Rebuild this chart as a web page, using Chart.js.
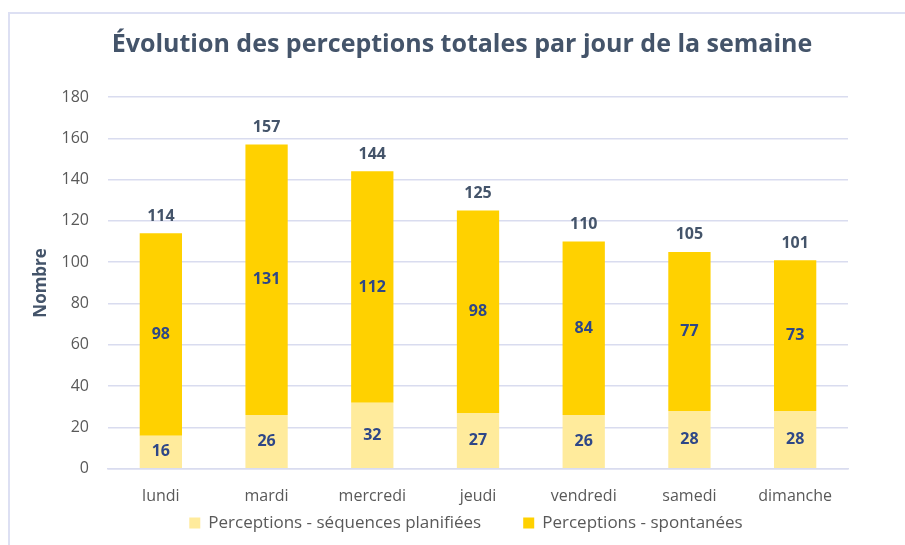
<!DOCTYPE html>
<html>
<head>
<meta charset="utf-8">
<script src="https://cdn.jsdelivr.net/npm/chart.js@4"></script>
<style>
  html, body { margin: 0; padding: 0; background: #fff; }
  #wrap { position: relative; width: 905px; height: 545px; overflow: hidden; }
  #frame { position: absolute; left: 8px; top: 12px; width: 910px; height: 550px;
           border-left: 2px solid #DDE0F3; border-top: 2px solid #DDE0F3; }
  canvas { position: absolute; left: 0; top: 0; }
</style>
</head>
<body>
<div id="wrap">
  <div id="frame"></div>
  <canvas id="chart" width="905" height="545"></canvas>
</div>
<script>
// ====== Data ======
const days = ['lundi', 'mardi', 'mercredi', 'jeudi', 'vendredi', 'samedi', 'dimanche'];
const planned = [16, 26, 32, 27, 26, 28, 28];
const spontaneous = [98, 131, 112, 98, 84, 77, 73];
const yTicks = [0, 20, 40, 60, 80, 100, 120, 140, 160, 180];

const FONT = "'Open Sans', 'Noto Sans', sans-serif";
const TITLE = 'Évolution des perceptions totales par jour de la semaine';

// ====== Labels plugin (values inside bars + totals on top) ======
const labelsPlugin = {
    id: 'barLabels',
    afterDatasetsDraw(chart) {
        const ctx = chart.ctx;
        const y = chart.scales.y;
        ctx.save();
        ctx.textAlign = 'center';
        ctx.textBaseline = 'middle';
        ctx.font = "bold 16px " + FONT;
        ctx.fillStyle = '#2E4787';
        chart.data.datasets.forEach((ds, i) => {
            const meta = chart.getDatasetMeta(i);
            meta.data.forEach((bar, j) => {
                ctx.fillText(String(ds.data[j]), bar.x, (bar.y + bar.base) / 2);
            });
        });
        // totals
        ctx.fillStyle = '#44546A';
        chart.getDatasetMeta(1).data.forEach((bar, j) => {
            const total = planned[j] + spontaneous[j];
            ctx.fillText(String(total), bar.x, y.getPixelForValue(total) - 17);
        });
        ctx.restore();
    }
};

// ====== Title + legend drawn by hand ======
const frameText = {
    id: 'frameText',
    afterDraw(chart) {
        const ctx = chart.ctx;
        const area = chart.chartArea;
        const mid = (area.left + area.right) / 2 - 16;
        ctx.save();
        // title
        ctx.font = "bold 25px " + FONT;
        ctx.fillStyle = '#44546A';
        ctx.textAlign = 'center';
        ctx.textBaseline = 'middle';
        ctx.fillText(TITLE, mid, 45);

        // legend
        ctx.font = "17px " + FONT;
        ctx.textAlign = 'left';
        const box = 11, gap = 8, space = 42;
        const items = chart.data.datasets.map(ds => ({
            text: ds.label, color: ds.backgroundColor, w: ctx.measureText(ds.label).width
        }));
        const total = items.reduce((s, it) => s + box + gap + it.w, 0) + space * (items.length - 1);
        let x = mid + 4 - total / 2;
        const ly = 523;
        items.forEach(it => {
            ctx.fillStyle = it.color;
            ctx.fillRect(x, ly - box / 2, box, box);
            ctx.fillStyle = '#595959';
            ctx.fillText(it.text, x + box + gap, ly);
            x += box + gap + it.w + space;
        });
        ctx.restore();
    }
};

new Chart(document.getElementById('chart'), {
    type: 'bar',
    data: {
        labels: days,
        datasets: [
            {
                label: 'Perceptions - séquences planifiées',
                data: planned,
                backgroundColor: '#FFEB9C',
                barPercentage: 0.8,
                categoryPercentage: 0.5
            },
            {
                label: 'Perceptions - spontanées',
                data: spontaneous,
                backgroundColor: '#FFD100',
                barPercentage: 0.8,
                categoryPercentage: 0.5
            }
        ]
    },
    options: {
        responsive: false,
        animation: false,
        layout: { padding: { left: 31, right: 57, top: 97, bottom: 29 } },
        plugins: {
            title: { display: false },
            legend: { display: false },
            tooltip: { enabled: false }
        },
        scales: {
            x: {
                stacked: true,
                grid: { display: false },
                border: { display: true, color: '#D9DCEF', width: 1.5 },
                ticks: { color: '#595959', font: { family: FONT, size: 16 }, padding: 10 }
            },
            y: {
                stacked: true,
                min: 0,
                max: 180,
                afterBuildTicks(scale) {
                    scale.ticks = yTicks.map(v => ({ value: v }));
                },
                afterFit(scale) { scale.width = 77; },
                grid: { color: '#D9DCEF', lineWidth: 1.5, drawTicks: false },
                border: { display: false },
                ticks: { color: '#595959', font: { family: FONT, size: 16 }, padding: 19 },
                title: {
                    display: true,
                    text: 'Nombre',
                    color: '#44546A',
                    font: { family: FONT, size: 17, weight: 'bold' },
                    padding: 0
                }
            }
        }
    },
    plugins: [labelsPlugin, frameText]
});
</script>
</body>
</html>
